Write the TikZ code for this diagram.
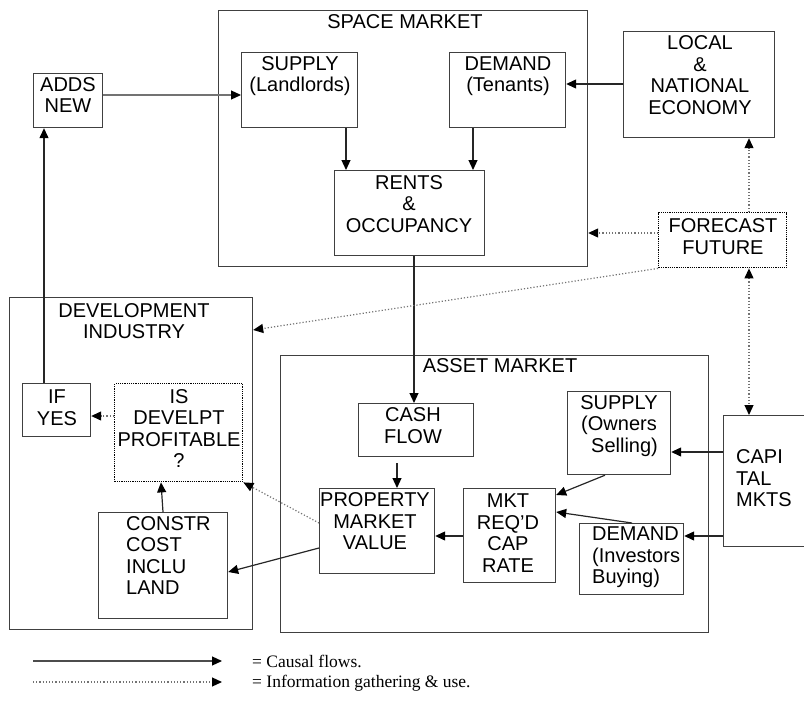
\documentclass[tikz,border=0pt]{standalone}
\usepackage{fontspec}
\setmainfont{Liberation Sans}
\newfontfamily\legendfont{Liberation Serif}
\usepackage{tikz}
\usetikzlibrary{arrows.meta, positioning, calc}

\begin{document}
\begin{tikzpicture}[
  x=1pt, y=-1pt,
  >={Triangle[length=10pt,width=9pt,color=black]},
  box/.style={
    draw=black!75, line width=1.2pt, inner sep=0pt, anchor=north west
  },
  dotbox/.style={box, draw=black, densely dotted, line width=1.4pt},
  txt/.style={
    align=center, inner sep=0pt, font=\fontsize{20}{21.5}\selectfont
  },
  ltxt/.style={txt, align=left, anchor=west},
  causal/.style={->, line width=1.2pt, draw=black!85},
  info/.style={->, dotted, line width=1.2pt, draw=black!55},
  legend/.style={anchor=west, inner sep=0pt, font=\legendfont\fontsize{17.5}{19}\selectfont}
]
\useasboundingbox (0,0) rectangle (804,709);

% Outer market boxes
\node[box, minimum width=369, minimum height=256] (space) at (218,10) {};
\node[box, minimum width=243, minimum height=332] (dev) at (9,297) {};
\node[box, minimum width=428, minimum height=277] (asset) at (280,355) {};
\node[txt] (spaceT) at (405,22) {SPACE MARKET};
\node[txt] (devT) at (134,321) {DEVELOPMENT\\INDUSTRY};
\node[txt] (assetT) at (500,366) {ASSET MARKET};

% Space market
\node[box, minimum width=116, minimum height=75] (supL) at (241,52) {};
\node[box, minimum width=116, minimum height=75] (demT) at (449,52) {};
\node[box, minimum width=150, minimum height=85] (rents) at (334,170) {};
\node[txt] (supLT) at (300,76) {SUPPLY\\(Landlords)};
\node[txt] (demTT) at (508,76) {DEMAND\\(Tenants)};
\node[txt] (rentsT) at (409,204) {RENTS\\\&\\OCCUPANCY};

% Outside boxes
\node[box, minimum width=69, minimum height=54] (adds) at (33,73) {};
\node[txt] (addsT) at (68,95) {ADDS\\NEW};
\node[box, minimum width=151, minimum height=106] (econ) at (623,31) {};
\node[txt] (econT) at (700,75) {LOCAL\\\&\\NATIONAL\\ECONOMY};
\node[dotbox, minimum width=128, minimum height=55] (fore) at (658,212) {};
\node[txt] (foreT) at (723,236.5) {FORECAST\\FUTURE};
\node[box, minimum width=90, minimum height=131] (cap) at (723,415) {};
\node[ltxt] (capT) at (736,478.5) {CAPI\\TAL\\MKTS};

% Development industry
\node[box, minimum width=68, minimum height=53] (ifyes) at (22,383) {};
\node[txt] (ifyesT) at (57,407.5) {IF\\YES};
\node[dotbox, minimum width=128, minimum height=98] (prof) at (114,383) {};
\node[txt] (profT) at (179,428.5) {IS\\DEVELPT\\PROFITABLE\\?};
\node[box, minimum width=129, minimum height=106] (constr) at (98,512) {};
\node[ltxt] (constrT) at (126,555.5) {CONSTR\\COST\\INCLU\\LAND};

% Asset market
\node[box, minimum width=115, minimum height=53] (cash) at (358,403) {};
\node[txt] (cashT) at (413,425.5) {CASH\\FLOW};
\node[box, minimum width=115, minimum height=85] (prop) at (319,488) {};
\node[txt] (propT) at (375,521.5) {PROPERTY\\MARKET\\VALUE};
\node[box, minimum width=92, minimum height=94] (mkt) at (463,488) {};
\node[txt] (mktT) at (508,533) {MKT\\REQ'D\\CAP\\RATE};
\node[box, minimum width=103, minimum height=83] (supO) at (567,391) {};
\node[txt] (supOT) at (619,426) {SUPPLY\\(Owners\\\ \ Selling)};
\node[box, minimum width=104, minimum height=71] (demI) at (579,523) {};
\node[ltxt] (demIT) at (592,557.5) {DEMAND\\(Investors\\Buying)};

% Causal flows
\draw[causal, draw=black!55] ($(adds.north east)+(0,22)$) -- ($(supL.north west)+(0,43)$);
\draw[causal] ($(supL.south west)+(105,0)$) -- ($(rents.north west)+(12,0)$);
\draw[causal] ($(demT.south west)+(24,0)$) -- ($(rents.north west)+(139,0)$);
\draw[causal] ($(econ.north west)+(0,53)$) -- ($(demT.north east)+(0,32)$);
\draw[causal] ($(rents.south west)+(80,0)$) -- ($(cash.north west)+(56,0)$);
\draw[causal] ($(cash.south west)+(39,6)$) -- ($(prop.north west)+(78,0)$);
\draw[causal] ($(ifyes.north west)+(22,0)$) -- ($(adds.south west)+(11,0)$);
\draw[causal] ($(constr.north west)+(65,0)$) -- ($(prof.south west)+(47,0)$);
\draw[causal] ($(prop.north west)+(0,60)$) -- ($(constr.north east)+(0,60)$);
\draw[causal] ($(mkt.north west)+(0,48)$) -- ($(prop.north east)+(0,48)$);
\draw[causal] ($(supO.south west)+(38,0)$) -- ($(mkt.north east)+(0,7)$);
\draw[causal] ($(demI.north west)+(53,0)$) -- ($(mkt.north east)+(0,24)$);
\draw[causal] ($(cap.north west)+(0,37)$) -- ($(supO.north east)+(0,61)$);
\draw[causal] ($(cap.north west)+(0,121)$) -- ($(demI.north east)+(0,13)$);

% Information flows
\draw[info] ($(fore.north west)+(91,0)$) -- ($(econ.south west)+(126,0)$);
\draw[info] ($(fore.north west)+(0,21)$) -- ($(space.north east)+(0,223)$);
\draw[info] (fore.south west) -- ($(dev.north east)+(0,33)$);
\draw[info, <->] ($(fore.south west)+(91,0)$) -- ($(cap.north west)+(26,0)$);
\draw[info] ($(prof.north west)+(0,33)$) -- ($(ifyes.north east)+(0,33)$);
\draw[info] ($(prop.north west)+(0,35)$) -- (prof.south east);

% Legend
\coordinate (c1) at (33,661);
\coordinate (c2) at (222,661);
\coordinate (i1) at (33,682);
\coordinate (i2) at (222,682);
\draw[causal, draw=black!70] (c1) -- (c2);
\draw[info] (i1) -- (i2);
\node[legend] (causalT) at (252,661) {= Causal flows.};
\node[legend] (infoT) at (252,683) {= Information gathering \& use.};

\end{tikzpicture}
\end{document}
